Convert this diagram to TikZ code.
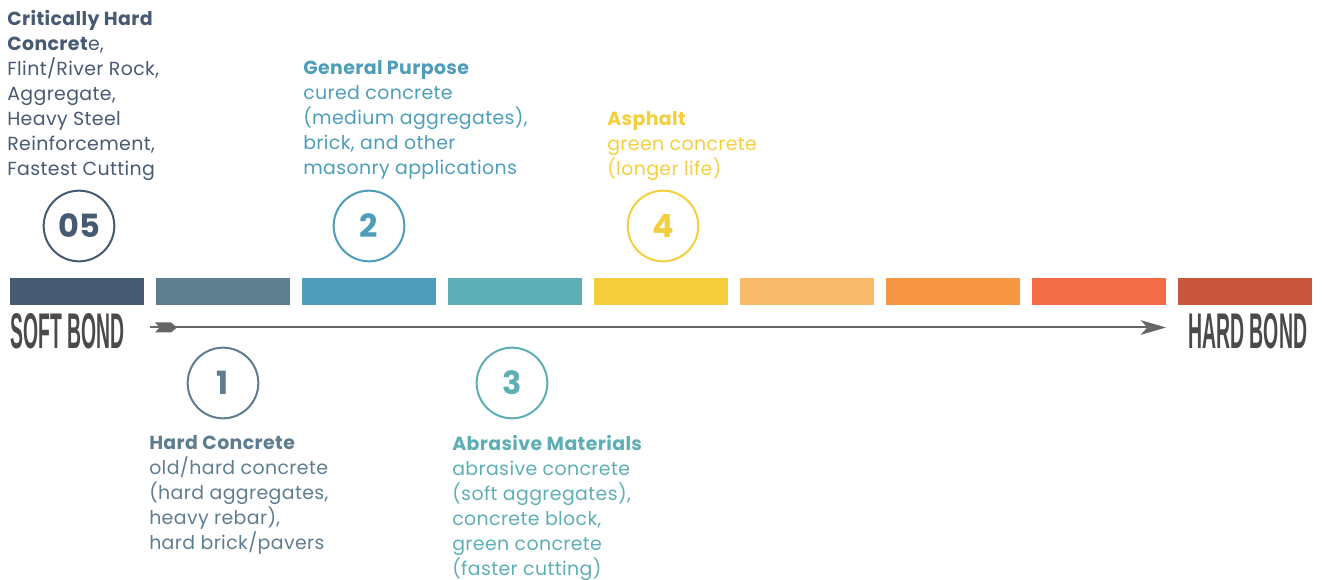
\documentclass[tikz,border=0pt]{standalone}
\usepackage{fontspec}
\setmainfont{Poppins}[LetterSpace=2]
\newfontfamily\condfont{Liberation Sans}
\newfontfamily\numfont{Poppins}
\usetikzlibrary{arrows.meta}
\definecolor{bA}{HTML}{475A73}
\definecolor{bB}{HTML}{5E7D8F}
\definecolor{bC}{HTML}{4E9DBA}
\definecolor{bD}{HTML}{5EAFB5}
\definecolor{bE}{HTML}{F5CE3E}
\definecolor{bF}{HTML}{F8B96A}
\definecolor{bG}{HTML}{F79642}
\definecolor{bH}{HTML}{F26D45}
\definecolor{bI}{HTML}{C9563C}
\definecolor{bondgray}{HTML}{4A4A4A}
\definecolor{arrowgray}{HTML}{666666}
\begin{document}
\begin{tikzpicture}[x=0.75pt,y=-0.75pt,
  bar/.style={draw=none,inner sep=0pt,minimum width=100.5pt,minimum height=20.25pt,anchor=north west},
  num/.style={circle,draw,line width=1.5pt,minimum size=53pt,inner sep=0pt,font=\numfont\fontsize{24}{24}\selectfont\bfseries},
  desc/.style={anchor=north west,inner sep=0pt,align=left,font=\fontsize{14.2}{18.7}\selectfont},
  bondtext/.style={inner sep=0pt,anchor=north west,text=bondgray,font=\condfont\bfseries}]
\path[use as bounding box] (0,0) rectangle (1322,580);
% bars
\node[bar,fill=bA] (b1) at (10,278) {};
\node[bar,fill=bB] (b2) at (156,278) {};
\node[bar,fill=bC] (b3) at (302,278) {};
\node[bar,fill=bD] (b4) at (448,278) {};
\node[bar,fill=bE] (b5) at (594,278) {};
\node[bar,fill=bF] (b6) at (740,278) {};
\node[bar,fill=bG] (b7) at (886,278) {};
\node[bar,fill=bH] (b8) at (1032,278) {};
\node[bar,fill=bI] (b9) at (1178,278) {};
% bond labels
\node[bondtext] (soft) at (10,313) {\resizebox{85.5pt}{26.25pt}{SOFT BOND}};
\node[bondtext] (hard) at (1188,313) {\resizebox{89.25pt}{26.25pt}{HARD BOND}};
% arrow
\coordinate (as) at (150,327.5);
\coordinate (ae) at (1166,327.5);
\draw[line width=1.5pt,arrowgray,-{Stealth[length=19pt,width=11pt,inset=5pt]}] (as) -- (ae);
\fill[arrowgray] (155,322.5) -- (171,322.5) -- (177,327.5) -- (171,332.5) -- (155,332.5) -- (159.5,327.5) -- cycle;
% circles
\node[num,draw=bA,text=bA] (n05) at (79,226) {05};
\node[num,draw=bC,text=bC] (n2) at (369,226) {2};
\node[num,draw=bE,text=bE] (n4) at (663,226) {4};
\node[num,draw=bB,text=bB] (n1) at (223,383) {1};
\node[num,draw=bD,text=bD] (n3) at (512,383) {3};
% descriptions
\node[desc,text=bA] (t05) at (7,10.5) {\textbf{Critically Hard}\\\textbf{Concret}e,\\Flint/River Rock,\\Aggregate,\\Heavy Steel\\Reinforcement,\\Fastest Cutting};
\node[desc,text=bC] (t2) at (303,60.5) {\textbf{General Purpose}\\cured concrete\\(medium aggregates),\\brick, and other\\masonry applications};
\node[desc,text=bE] (t4) at (607,111.5) {\textbf{Asphalt}\\green concrete\\(longer life)};
\node[desc,text=bB] (t1) at (149,435) {\textbf{Hard Concrete}\\old/hard concrete\\(hard aggregates,\\heavy rebar),\\hard brick/pavers};
\node[desc,text=bD] (t3) at (452,435) {\textbf{Abrasive Materials}\\abrasive concrete\\(soft aggregates),\\concrete block,\\green concrete\\(faster cutting)};
\end{tikzpicture}
\end{document}
